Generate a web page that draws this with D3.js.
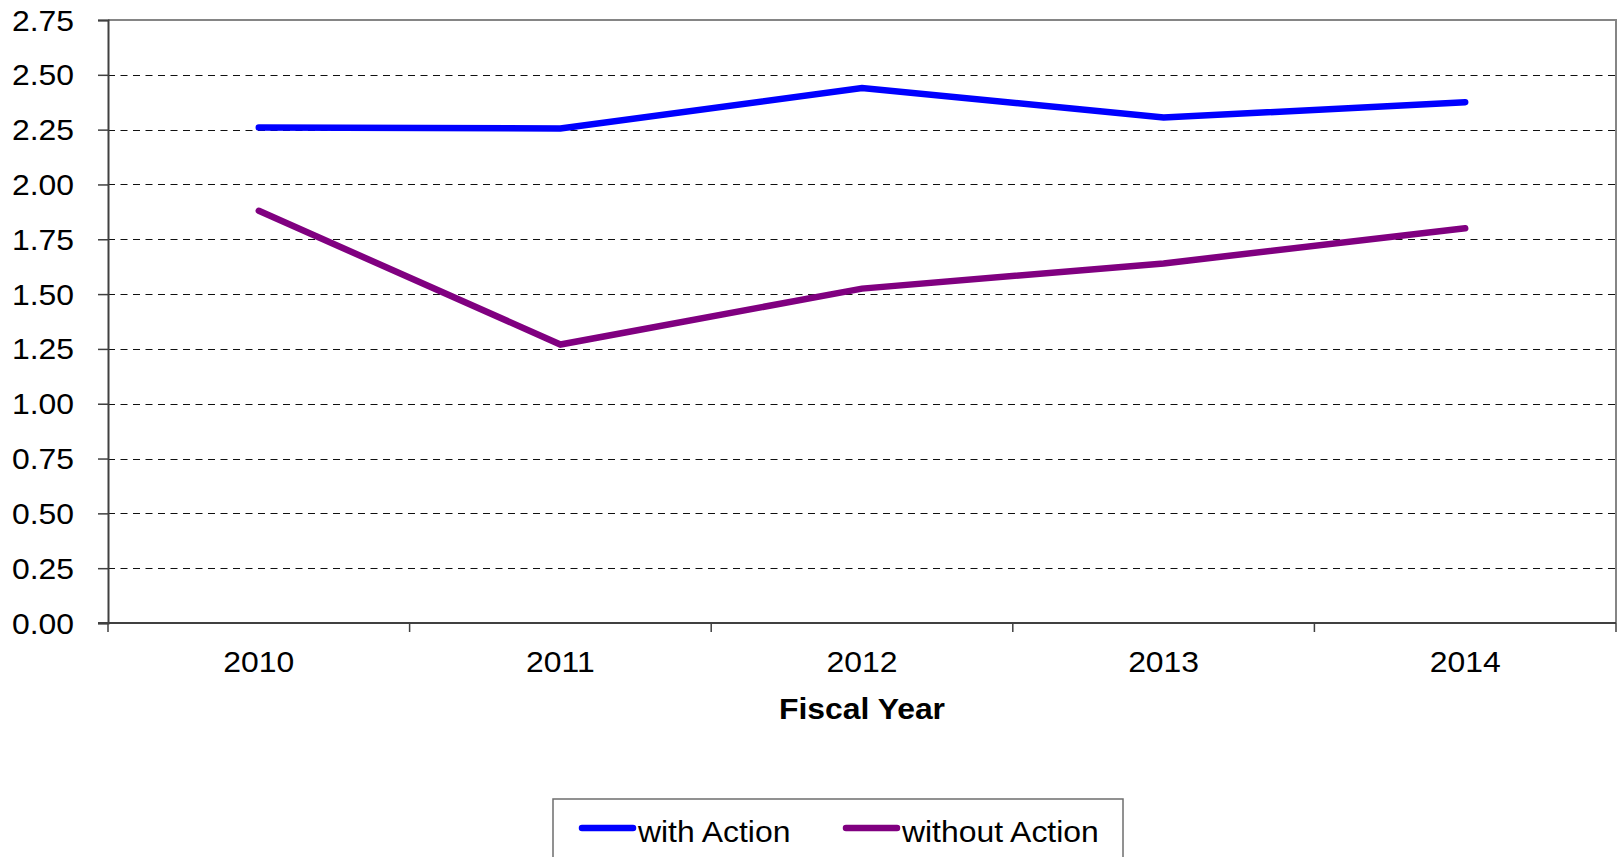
<!DOCTYPE html>
<html>
<head>
<meta charset="utf-8">
<script src="https://cdn.jsdelivr.net/npm/d3@7"></script>
<style>
  html, body { margin: 0; padding: 0; background: #fff; overflow: hidden; }
  text { font-family: "Liberation Sans", Arial, sans-serif; fill: #000; }
</style>
</head>
<body>
<svg id="chart" width="1620" height="857"></svg>
<script>
// Fiscal years on the x axis
const years = ["2010", "2011", "2012", "2013", "2014"];
// Ratio per year, with and without the action
const withAction = [2.26, 2.255, 2.44, 2.305, 2.375];
const withoutAction = [1.88, 1.27, 1.525, 1.64, 1.80];
// Value-axis ticks
const yTicks = [0, 0.25, 0.5, 0.75, 1, 1.25, 1.5, 1.75, 2, 2.25, 2.5, 2.75];

const seriesNames = ["with Action", "without Action"];
const seriesColors = ["#0000ff", "#800080"];
const series = [withAction, withoutAction];

const svg = d3.select("#chart");
const plotL = 108, plotR = 1616, plotT = 20, plotB = 623;
const FS = 29, SX = 1.1;

const x = d3.scaleBand().domain(years).range([plotL, plotR]).padding(0);
const y = d3.scaleLinear().domain([0, 2.75]).range([plotB, plotT]);

// dashed horizontal gridlines
svg.append("g").selectAll("line")
  .data(yTicks.filter(t => t > 0 && t < 2.75))
  .join("line")
  .attr("x1", plotL).attr("x2", plotR)
  .attr("y1", d => Math.round(y(d)) + 0.5).attr("y2", d => Math.round(y(d)) + 0.5)
  .attr("stroke", "#111").attr("stroke-width", 1.2)
  .attr("stroke-dasharray", "7,5.5");

// plot frame: top and right edges
svg.append("path")
  .attr("d", `M${plotL},${plotT}H${plotR}V${plotB}`)
  .attr("fill", "none").attr("stroke", "#858585").attr("stroke-width", 2);

// y axis
const yAxis = d3.axisLeft(y).tickValues(yTicks).tickSize(10).tickFormat(d3.format(".2f"));
const gy = svg.append("g").attr("transform", `translate(${plotL},0)`).call(yAxis);
gy.select(".domain").attr("stroke", "#404040").attr("stroke-width", 2);
gy.selectAll(".tick line").attr("stroke", "#404040").attr("stroke-width", 1.5);
gy.selectAll(".tick text").remove();
gy.selectAll(".tick").append("text")
  .attr("transform", `translate(-34,10) scale(${SX},1)`)
  .attr("text-anchor", "end")
  .style("font-size", FS + "px")
  .text(d => d3.format(".2f")(d));

// x axis with ticks on category boundaries
const gx = svg.append("g").attr("transform", `translate(0,${plotB})`);
gx.append("line").attr("x1", plotL - 10).attr("x2", plotR)
  .attr("y1", 0).attr("y2", 0).attr("stroke", "#404040").attr("stroke-width", 2);
const bounds = years.map(d => x(d)).concat([plotR]);
gx.selectAll("line.tk").data(bounds).join("line").attr("class", "tk")
  .attr("x1", d => d).attr("x2", d => d).attr("y1", 0).attr("y2", 9)
  .attr("stroke", "#404040").attr("stroke-width", 1.5);
gx.selectAll("text").data(years).join("text")
  .attr("transform", d => `translate(${x(d) + x.bandwidth() / 2},49) scale(${SX},1)`)
  .attr("text-anchor", "middle")
  .style("font-size", FS + "px")
  .text(d => d);

// x axis title
svg.append("text")
  .attr("transform", `translate(${(plotL + plotR) / 2},719) scale(${SX},1)`)
  .attr("text-anchor", "middle")
  .style("font-size", FS + "px").style("font-weight", "bold")
  .text("Fiscal Year");

// series lines
const line = d3.line()
  .x((d, i) => x(years[i]) + x.bandwidth() / 2)
  .y(d => y(d));
svg.append("g").selectAll("path")
  .data(series)
  .join("path")
  .attr("d", d => line(d))
  .attr("fill", "none")
  .attr("stroke", (d, i) => seriesColors[i])
  .attr("stroke-width", 6.5)
  .attr("stroke-linecap", "round")
  .attr("stroke-linejoin", "miter");

// legend
const lg = svg.append("g");
lg.append("rect")
  .attr("x", 553).attr("y", 799).attr("width", 570).attr("height", 80)
  .attr("fill", "#fff").attr("stroke", "#6e6e6e").attr("stroke-width", 1.5);
const legendX = [582, 846];
seriesNames.forEach((name, i) => {
  lg.append("line")
    .attr("x1", legendX[i]).attr("x2", legendX[i] + 51)
    .attr("y1", 828).attr("y2", 828)
    .attr("stroke", seriesColors[i]).attr("stroke-width", 6.5)
    .attr("stroke-linecap", "round");
  lg.append("text")
    .attr("transform", `translate(${legendX[i] + 56},842) scale(${SX},1)`)
    .style("font-size", FS + "px")
    .text(name);
});
</script>
</body>
</html>
